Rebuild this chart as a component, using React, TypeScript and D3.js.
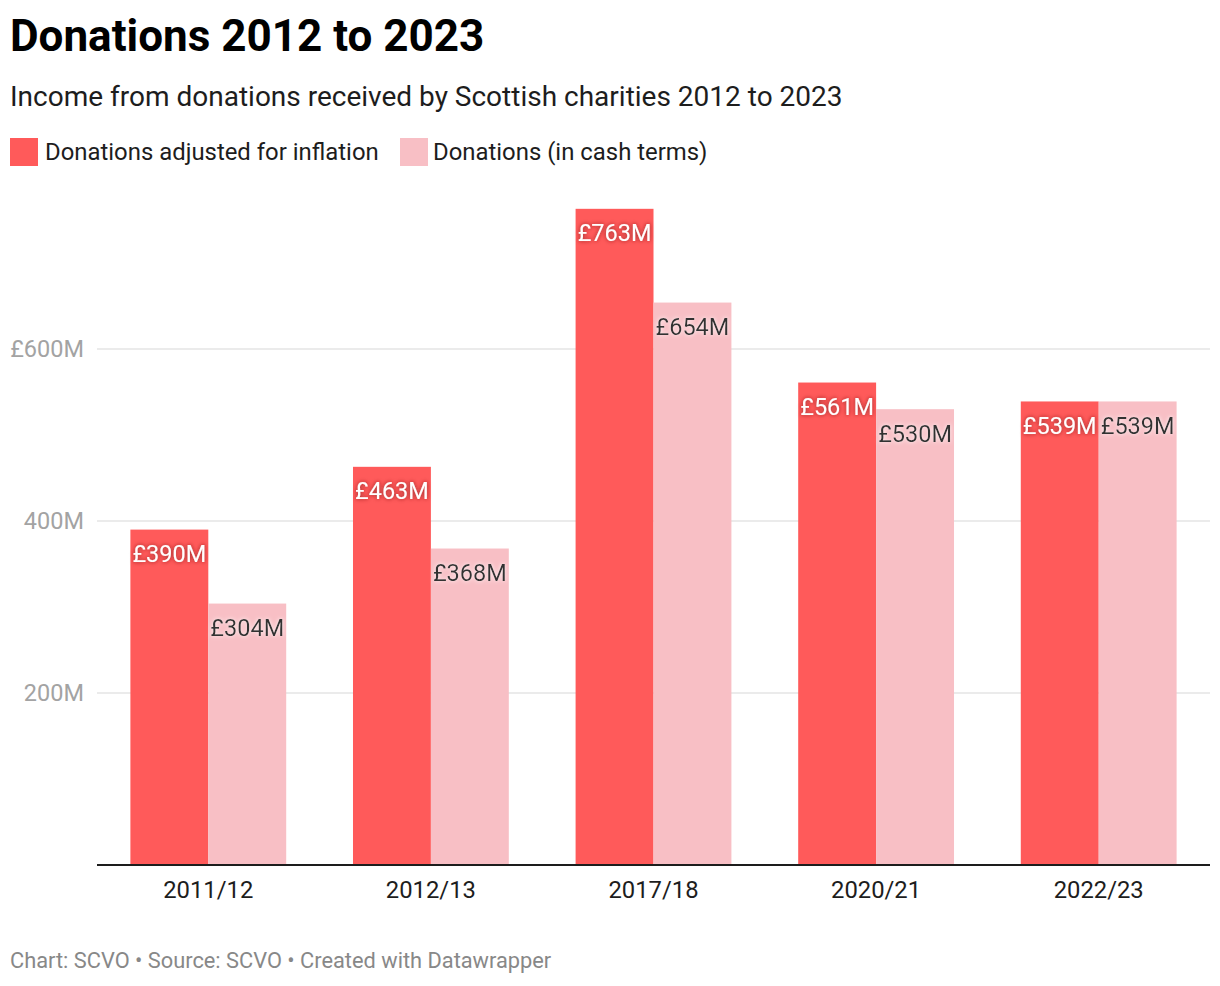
import React from "react";
import * as d3 from "d3";

const categories = ["2011/12", "2012/13", "2017/18", "2020/21", "2022/23"];
const adjusted = [390, 463, 763, 561, 539];
const cash = [304, 368, 654, 530, 539];
const seriesNames = ["Donations adjusted for inflation", "Donations (in cash terms)"];
const yTicks = [200, 400, 600];

const W = 1220;
const H = 986;
const RED = "#ff5a5a";
const PINK = "#f8bfc5";
const FONT = "Roboto, 'Noto Sans', sans-serif";

export default function App() {
  const x0 = d3
    .scaleBand<string>()
    .domain(categories)
    .range([97, 1210])
    .paddingInner(0.3)
    .paddingOuter(0.15);
  const x1 = d3
    .scaleBand<string>()
    .domain(["adjusted", "cash"])
    .range([0, x0.bandwidth()]);
  const y = d3.scaleLinear().domain([0, 800]).range([865, 865 - 800 * (516 / 600)]);

  const fmt = (v: number) => `£${v}M`;
  const series = [
    { key: "adjusted", values: adjusted, color: RED, text: "#ffffff", filter: "url(#darkGlow)" },
    { key: "cash", values: cash, color: PINK, text: "#333333", filter: "url(#lightGlow)" },
  ];

  return (
    <svg
      width={W}
      height={H}
      style={{ position: "absolute", left: 0, top: 0, background: "#fff", fontFamily: FONT }}
    >
      <defs>
        <filter id="darkGlow" x="-20%" y="-40%" width="140%" height="180%">
          <feGaussianBlur in="SourceAlpha" stdDeviation="2" result="b" />
          <feFlood floodColor="#7a1a1a" floodOpacity="0.8" />
          <feComposite in2="b" operator="in" result="s" />
          <feMerge>
            <feMergeNode in="s" />
            <feMergeNode in="SourceGraphic" />
          </feMerge>
        </filter>
        <filter id="lightGlow" x="-20%" y="-40%" width="140%" height="180%">
          <feGaussianBlur in="SourceAlpha" stdDeviation="2" result="b" />
          <feFlood floodColor="#ffffff" floodOpacity="0.9" />
          <feComposite in2="b" operator="in" result="s" />
          <feMerge>
            <feMergeNode in="s" />
            <feMergeNode in="SourceGraphic" />
          </feMerge>
        </filter>
      </defs>

      <text x={10} y={51} fontSize={44} fontWeight={700} fill="#000">
        Donations 2012 to 2023
      </text>
      <text x={10} y={106} fontSize={28} fill="#1d1d1d">
        Income from donations received by Scottish charities 2012 to 2023
      </text>

      <rect x={10} y={138} width={28} height={28} fill={RED} />
      <text x={45} y={160} fontSize={23.9} fill="#1d1d1d">
        {seriesNames[0]}
      </text>
      <rect x={400} y={138} width={28} height={28} fill={PINK} />
      <text x={433} y={160} fontSize={23.9} fill="#1d1d1d">
        {seriesNames[1]}
      </text>

      {yTicks.map((t) => (
        <g key={t}>
          <line x1={97} x2={1210} y1={y(t)} y2={y(t)} stroke="#e5e5e5" strokeWidth={1.6} />
          <text
            x={84}
            y={y(t) + 8}
            textAnchor="end"
            fontSize={23.5}
            fill="#a3a3a3"
          >
            {t === 600 ? `£${t}M` : `${t}M`}
          </text>
        </g>
      ))}

      {categories.map((c, i) => (
        <g key={c} transform={`translate(${x0(c)},0)`}>
          {series.map((s) => (
            <rect
              key={s.key}
              x={x1(s.key)}
              y={y(s.values[i])}
              width={x1.bandwidth()}
              height={y(0) - y(s.values[i])}
              fill={s.color}
            />
          ))}
        </g>
      ))}

      <line x1={97} x2={1210} y1={865} y2={865} stroke="#1d1d1d" strokeWidth={2} />

      {categories.map((c, i) => (
        <g key={c + "-labels"} transform={`translate(${x0(c)},0)`}>
          {series.map((s) => (
            <text
              key={s.key}
              x={(x1(s.key) ?? 0) + x1.bandwidth() / 2}
              y={y(s.values[i]) + 32.5}
              textAnchor="middle"
              fontSize={23.5}
              fill={s.text}
              filter={s.filter}
            >
              {fmt(s.values[i])}
            </text>
          ))}
          <text
            x={x0.bandwidth() / 2}
            y={898}
            textAnchor="middle"
            fontSize={23.8}
            fill="#1d1d1d"
          >
            {c}
          </text>
        </g>
      ))}

      <text x={10} y={968} fontSize={21.8} fill="#888888">
        Chart: SCVO • Source: SCVO • Created with Datawrapper
      </text>
    </svg>
  );
}
